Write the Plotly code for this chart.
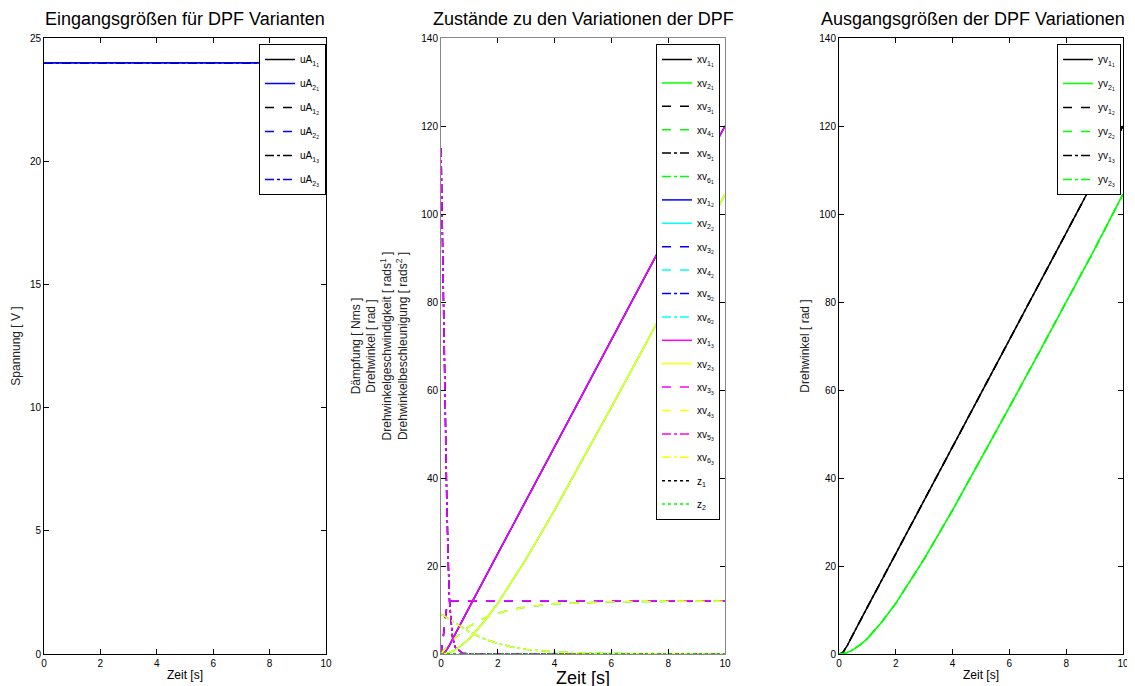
import plotly.graph_objects as go

# ---------------- data ----------------
t = [0, 0.05, 0.1, 0.15, 0.2, 0.25, 0.3, 0.4, 0.5, 0.75, 1, 1.5, 2, 2.5, 3, 4, 5, 6, 7, 8, 9, 10]

# input voltage (V)
t_u = [0, 10]
u_A1 = [24, 24]
u_A2 = [24, 24]

# states
angle_1 = [0, 0.05, 0.2, 0.45, 0.9, 1.4, 2.0, 3.3, 4.6, 7.6, 10.65, 16.7, 22.8, 28.9, 35.0,
           47.1, 59.3, 71.4, 83.6, 95.7, 107.9, 120.0]
angle_2 = [0, 0.01, 0.05, 0.1, 0.17, 0.26, 0.37, 0.65, 1.0, 2.1, 3.5, 7.2, 11.5, 16.4, 21.6,
           32.7, 44.3, 56.1, 68.0, 80.0, 92.0, 104.5]
speed_1 = [0, 2, 5, 8, 10.5, 11.5, 11.9, 12.1, 12.1, 12.1, 12.1, 12.1, 12.1, 12.1, 12.1,
           12.1, 12.1, 12.1, 12.1, 12.1, 12.1, 12.1]
speed_2 = [0, 0.45, 0.9, 1.3, 1.7, 2.05, 2.4, 3.1, 3.7, 5.1, 6.3, 8.1, 9.3, 10.1, 10.7,
           11.4, 11.7, 11.86, 11.94, 11.97, 11.99, 12.0]
accel_1 = [115, 95, 72, 50, 36, 22, 12, 4, 1.5, 0.2, 0, 0, 0, 0, 0, 0, 0, 0, 0, 0, 0, 0]
accel_2 = [9.0, 8.9, 8.7, 8.5, 8.3, 8.1, 7.9, 7.5, 7.0, 6.0, 5.0, 3.5, 2.4, 1.6, 1.05,
           0.5, 0.2, 0.1, 0.05, 0.02, 0.01, 0]
z_1 = [0] * len(t)
z_2 = [0] * len(t)

# outputs
y_1 = angle_1
y_2 = angle_2

x_ticks = [0, 2, 4, 6, 8, 10]

titles = ["Eingangsgrößen für DPF Varianten",
          "Zustände zu den Variationen der DPF",
          "Ausgangsgrößen der DPF Variationen"]
x_label = "Zeit [s]"

# ---------------- layout geometry ----------------
W, H = 1127, 678  # page body has 8px margin
def px(X):
    return (X - 8) / W
def py(Y):
    return 1 - (Y - 8) / H

FONT = "Liberation Sans, Arial, sans-serif"
BLACK, GREEN, BLUE, CYAN, MAG, YEL = "#000000", "#00ff00", "#0000ff", "#00ffff", "#ff00ff", "#ffff00"

fig = go.Figure()

def sub2(base, a, b):
    return f"{base}<sub>{a}<sub>{b}</sub></sub>"

def add(x, y, name, color, dash, xa, ya, legend):
    fig.add_trace(go.Scatter(
        x=x, y=y, mode="lines", name=name,
        line=dict(color=color, width=1.5, dash=dash),
        xaxis=xa, yaxis=ya, legend=legend, legendgroup=legend + name,
    ))

# left panel
dashes = ["solid", "dash", "dashdot"]
for k in range(3):
    add(t_u, u_A1, sub2("uA", 1, k + 1), BLACK, dashes[k], "x", "y", "legend")
    add(t_u, u_A2, sub2("uA", 2, k + 1), BLUE, dashes[k], "x", "y", "legend")

# middle panel
variant_cols = [(BLACK, GREEN), (BLUE, CYAN), (MAG, YEL)]
states = [(angle_1, angle_2), (speed_1, speed_2), (accel_1, accel_2)]
for v, (c1, c2) in enumerate(variant_cols):
    idx = 1
    for s, (sa, sb) in enumerate(states):
        add(t, sa, sub2("xv", idx, v + 1), c1, dashes[s], "x2", "y2", "legend2")
        add(t, sb, sub2("xv", idx + 1, v + 1), c2, dashes[s], "x2", "y2", "legend2")
        idx += 2
add(t, z_1, "z<sub>1</sub>", BLACK, "dot", "x2", "y2", "legend2")
add(t, z_2, "z<sub>2</sub>", GREEN, "dot", "x2", "y2", "legend2")

# right panel
for k in range(3):
    add(t, y_1, sub2("yv", 1, k + 1), BLACK, dashes[k], "x3", "y3", "legend3")
    add(t, y_2, sub2("yv", 2, k + 1), GREEN, dashes[k], "x3", "y3", "legend3")

doms = [(px(44), px(326)), (px(441), px(725)), (px(839), px(1123))]
ydom = [py(654), py(38)]
title_x = [px(185), px(583), px(973)]

def xaxis(dom, title, linecolor):
    return dict(domain=list(dom), range=[0, 10], tickvals=x_ticks, ticks="inside", ticklen=5,
                tickcolor="black", showline=True, linecolor=linecolor, linewidth=1, mirror="ticks",
                showgrid=False, zeroline=False, tickfont=dict(size=10, color="black"),
                automargin=False,
                title=dict(text=title, font=dict(size=12, color="black"), standoff=2))

def yaxis(anchor, rng, dtick, title, linecolor, standoff):
    return dict(domain=ydom, anchor=anchor, range=rng, dtick=dtick, ticks="inside", ticklen=5,
                tickcolor="black", showline=True, linecolor=linecolor, linewidth=1, mirror="ticks",
                showgrid=False, zeroline=False, tickfont=dict(size=10, color="black"),
                automargin=False,
                title=dict(text=title, font=dict(size=12, color="#222222"), standoff=standoff))

def legend(xr, gap):
    return dict(x=xr, xanchor="right", y=py(44), yanchor="top", bgcolor="white",
                bordercolor="black", borderwidth=1, font=dict(size=10, color="black"),
                tracegroupgap=gap, itemwidth=30)

fig.update_layout(
    width=W, height=H, margin=dict(l=0, r=0, t=0, b=0, autoexpand=False),
    paper_bgcolor="white", plot_bgcolor="white",
    font=dict(family=FONT, color="black"),
    xaxis=xaxis(doms[0], x_label, "black") | dict(anchor="y"),
    xaxis2=xaxis(doms[1], "", "#888888") | dict(anchor="y2"),
    xaxis3=xaxis(doms[2], x_label, "black") | dict(anchor="y3"),
    yaxis=yaxis("x", [0, 25], 5, "Spannung [ V ]", "black", 6),
    yaxis2=yaxis("x2", [0, 140], 20,
                 "Dämpfung [ Nms ]<br>Drehwinkel [ rad ]<br>Drehwinkelgeschwindigkeit [ rads<sup>1</sup> ]"
                 "<br>Drehwinkelbeschleunigung [ rads<sup>2</sup> ]", "#888888", 11),
    yaxis3=yaxis("x3", [0, 140], 20, "Drehwinkel [ rad ]", "black", 7),
    legend=legend(px(326), 5),
    legend2=legend(px(720), 4.4),
    legend3=legend(px(1121), 5),
    showlegend=True,
)

for i, tt in enumerate(titles):
    fig.add_annotation(text=tt, x=title_x[i], y=py(19), xref="paper", yref="paper",
                       xanchor="center", yanchor="middle", showarrow=False,
                       font=dict(size=18, color="black", family=FONT))

# large x label of the middle panel
fig.add_annotation(text=x_label, x=px(583), y=py(677.5), xref="paper", yref="paper",
                   xanchor="center", yanchor="middle", showarrow=False,
                   font=dict(size=18, color="black", family=FONT))

fig.write_html("out.html")
